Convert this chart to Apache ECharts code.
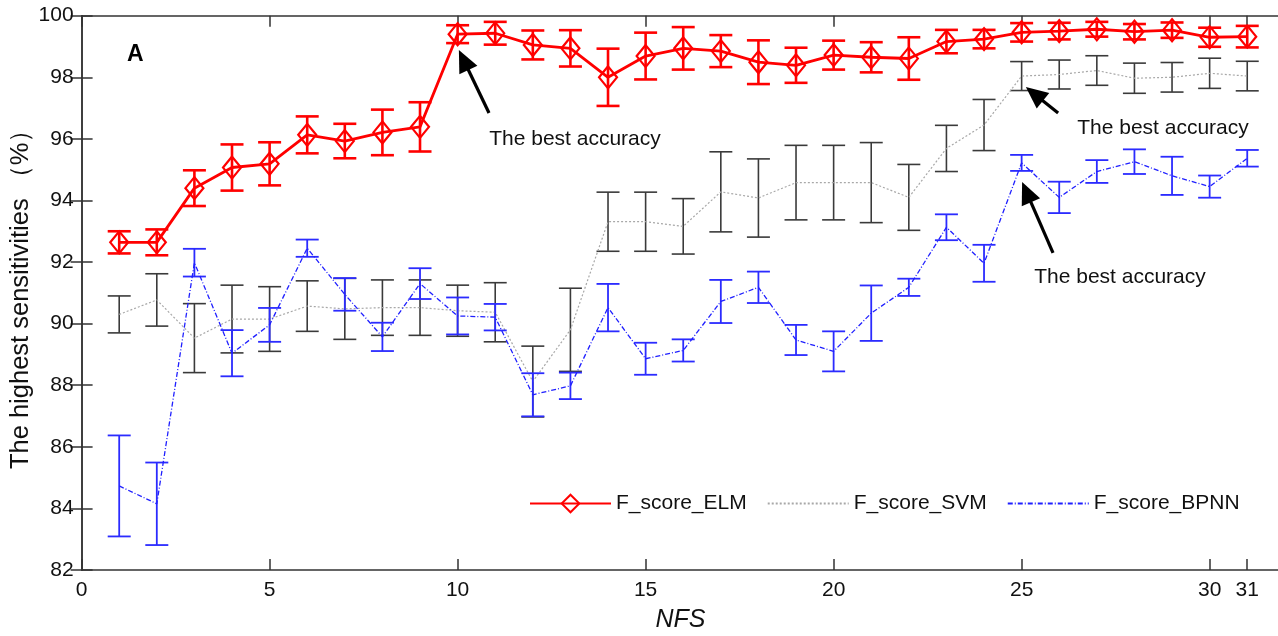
<!DOCTYPE html>
<html>
<head>
<meta charset="utf-8">
<script src="https://cdn.jsdelivr.net/npm/echarts@6/dist/echarts.min.js"></script>
<style>
  html, body { margin: 0; padding: 0; background: #fff; }
  #chart { width: 1278px; height: 636px; }
</style>
</head>
<body>
<div id="chart"></div>
<script>
// Number of feature subsets (NFS) on the x axis
const nfs = [1,2,3,4,5,6,7,8,9,10,11,12,13,14,15,16,17,18,19,20,21,22,23,24,25,26,27,28,29,30,31];

// Mean sensitivity (%) and its error half-width for each classifier
const elmMean = [92.64,92.64,94.40,95.07,95.19,96.13,95.93,96.21,96.39,99.40,99.43,99.05,98.94,98.00,98.69,98.94,98.85,98.49,98.39,98.72,98.65,98.61,99.16,99.24,99.46,99.50,99.56,99.48,99.53,99.30,99.32];
const elmErr  = [0.36,0.42,0.58,0.75,0.70,0.60,0.56,0.74,0.80,0.29,0.37,0.47,0.59,0.93,0.76,0.69,0.52,0.71,0.57,0.47,0.49,0.69,0.38,0.30,0.30,0.27,0.24,0.25,0.25,0.31,0.35];

const svmMean = [90.30,90.77,89.53,90.15,90.15,90.57,90.48,90.52,90.52,90.42,90.37,88.12,89.80,93.31,93.31,93.16,94.28,94.08,94.58,94.58,94.58,94.10,95.69,96.45,98.04,98.09,98.22,97.97,98.00,98.13,98.04];
const svmErr  = [0.60,0.85,1.12,1.10,1.05,0.82,0.99,0.90,0.90,0.83,0.96,1.15,1.35,0.96,0.96,0.90,1.30,1.27,1.21,1.21,1.30,1.07,0.75,0.83,0.47,0.47,0.48,0.49,0.48,0.49,0.48];

const bpnnMean = [84.73,84.15,91.98,89.04,89.96,92.45,90.95,89.57,91.30,90.25,90.21,87.69,87.98,90.52,88.86,89.13,90.72,91.18,89.47,89.10,90.34,91.18,93.13,91.96,95.22,94.10,94.94,95.26,94.80,94.45,95.37];
const bpnnErr  = [1.64,1.34,0.45,0.75,0.55,0.28,0.53,0.46,0.50,0.60,0.43,0.70,0.43,0.77,0.52,0.36,0.70,0.51,0.49,0.65,0.90,0.28,0.42,0.60,0.26,0.51,0.37,0.40,0.62,0.36,0.27];

// Axis tick labels
const xTicks = [0,5,10,15,20,25,30,31];
const yMin = 82, yMax = 100, yStep = 2;

// Arrow annotations (tail -> head centre) in data coordinates, and their captions
const arrows = [
  { from: [10.835, 96.84], to: [10.16, 98.56] },
  { from: [25.97, 96.84], to: [25.34, 97.46] },
  { from: [25.835, 92.30], to: [25.13, 94.27] }
];
const captions = [
  { text: 'The best accuracy', x: 575, y: 139 },
  { text: 'The best accuracy', x: 1163, y: 128 },
  { text: 'The best accuracy', x: 1120, y: 277 }
];

const FONT = '"Liberation Sans", Arial, Helvetica, sans-serif';
const AXIS_COLOR = '#333333';

function pairs(mean) { return nfs.map((x, i) => [x, mean[i]]); }
function ranges(mean, err) { return nfs.map((x, i) => [x, mean[i] - err[i], mean[i] + err[i]]); }

function errorBars(mean, err, color, width, cap, z) {
  return {
    type: 'custom',
    silent: true,
    z: z,
    xAxisIndex: 0, yAxisIndex: 0,
    encode: { x: 0, y: [1, 2] },
    data: ranges(mean, err),
    renderItem: function (params, api) {
      const x = api.value(0);
      const lo = api.coord([x, api.value(1)]);
      const hi = api.coord([x, api.value(2)]);
      const h = cap / 2;
      const st = { stroke: color, lineWidth: width, fill: null };
      return {
        type: 'group',
        children: [
          { type: 'line', shape: { x1: lo[0], y1: lo[1], x2: hi[0], y2: hi[1] }, style: st },
          { type: 'line', shape: { x1: lo[0] - h, y1: lo[1], x2: lo[0] + h, y2: lo[1] }, style: st },
          { type: 'line', shape: { x1: hi[0] - h, y1: hi[1], x2: hi[0] + h, y2: hi[1] }, style: st }
        ]
      };
    }
  };
}

const chart = echarts.init(document.getElementById('chart'), null, { renderer: 'canvas' });

const axisLine = { show: true, lineStyle: { color: AXIS_COLOR, width: 1.5 } };
const axisTick = { show: true, inside: true, length: 11, lineStyle: { color: AXIS_COLOR, width: 1.5 } };

const option = {
  animation: false,
  backgroundColor: '#ffffff',
  grid: {
    left: 81.6, top: 15.7, width: 1197.6, height: 554.3,
    containLabel: false, outerBoundsMode: 'none'
  },
  xAxis: [
    {
      type: 'value', min: 0, max: 31.85, position: 'bottom',
      name: 'NFS', nameLocation: 'middle', nameGap: 38,
      nameTextStyle: { fontFamily: FONT, fontSize: 25, fontStyle: 'italic', color: '#111' },
      axisLine: axisLine,
      axisTick: Object.assign({}, axisTick, { customValues: xTicks }),
      axisLabel: { customValues: xTicks, fontFamily: FONT, fontSize: 21, color: '#111', margin: 10 },
      splitLine: { show: false }
    },
    {
      type: 'value', min: 0, max: 31.85, position: 'top',
      axisLine: axisLine,
      axisTick: Object.assign({}, axisTick, { customValues: xTicks }),
      axisLabel: { show: false },
      splitLine: { show: false }
    }
  ],
  yAxis: [
    {
      type: 'value', min: yMin, max: yMax, interval: yStep, position: 'left',
      name: 'The highest sensitivities （%）', nameLocation: 'middle', nameGap: 48, nameRotate: 90,
      nameMoveOverlap: false,
      nameTextStyle: { fontFamily: FONT, fontSize: 25.5, color: '#111' },
      axisLine: axisLine, axisTick: axisTick,
      axisLabel: { fontFamily: FONT, fontSize: 21, color: '#111', margin: 8 },
      splitLine: { show: false }
    },
    {
      type: 'value', min: yMin, max: yMax, interval: yStep, position: 'right',
      axisLine: axisLine, axisTick: axisTick,
      axisLabel: { show: false },
      splitLine: { show: false }
    }
  ],
  legend: {
    data: [
      { name: 'F_score_ELM' },
      { name: 'F_score_SVM', itemStyle: { opacity: 0 } },
      { name: 'F_score_BPNN', itemStyle: { opacity: 0 } }
    ],
    left: 524, top: 488,
    itemWidth: 81, itemHeight: 22, itemGap: 20,
    textStyle: { fontFamily: FONT, fontSize: 21, color: '#111' },
    backgroundColor: '#ffffff'
  },
  series: [
    errorBars(svmMean, svmErr, '#3a3a3a', 1.6, 23, 2),
    {
      name: 'F_score_SVM', type: 'line', z: 3,
      data: pairs(svmMean),
      symbol: 'none',
      lineStyle: { color: '#a8a8a8', width: 1.2, type: [2, 2] },
      itemStyle: { color: '#a8a8a8' }
    },
    errorBars(bpnnMean, bpnnErr, '#2b2bff', 1.8, 23, 4),
    {
      name: 'F_score_BPNN', type: 'line', z: 5,
      data: pairs(bpnnMean),
      symbol: 'none',
      lineStyle: { color: '#1f1fff', width: 1.3, type: [5, 2, 1, 2] },
      itemStyle: { color: '#1f1fff' }
    },
    errorBars(elmMean, elmErr, '#ff0000', 2.6, 23, 6),
    {
      name: 'F_score_ELM', type: 'line', z: 7,
      data: pairs(elmMean),
      symbol: 'diamond', symbolSize: [18, 22],
      lineStyle: { color: '#ff0000', width: 2.8 },
      itemStyle: { color: 'rgba(255,255,255,0)', borderColor: '#ff0000', borderWidth: 2.2 },
      markLine: {
        silent: true,
        symbol: ['none', 'triangle'],
        symbolSize: [20, 22],
        label: { show: false },
        lineStyle: { color: '#000', width: 3.2, type: 'solid' },
        data: arrows.map(a => [{ coord: a.from }, { coord: a.to }])
      }
    }
  ],
  graphic: [
    {
      type: 'text', left: 127, top: 43,
      style: { text: 'A', font: 'bold 23px ' + FONT, fill: '#000' }
    }
  ].concat(captions.map(c => ({
    type: 'text', x: c.x, y: c.y,
    style: { text: c.text, font: '21px ' + FONT, fill: '#111', align: 'center', verticalAlign: 'middle' }
  })))
};

chart.setOption(option);
</script>
</body>
</html>
